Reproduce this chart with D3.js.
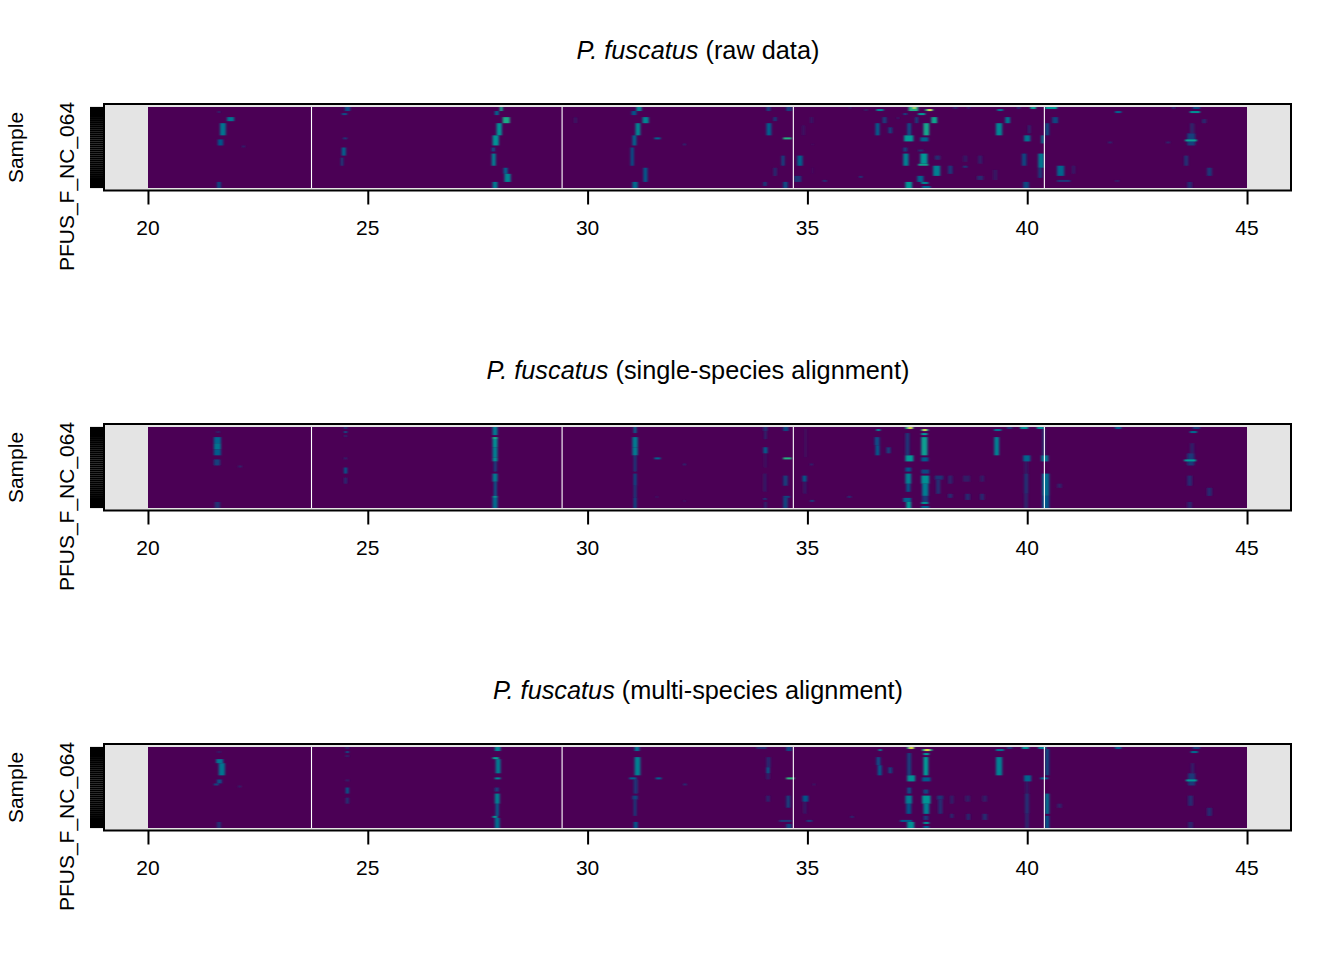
<!DOCTYPE html>
<html>
<head>
<meta charset="utf-8">
<script src="https://cdn.jsdelivr.net/npm/d3@7"></script>
<style>
  html, body { margin: 0; padding: 0; background: #fff; }
  text { font-family: "Liberation Sans", Arial, sans-serif; fill: #000; }
</style>
</head>
<body>
<svg id="chart" width="1344" height="960"></svg>
<script>
// x axis ticks, retention time
const timeTicks = [20, 25, 30, 35, 40, 45];
// white lines between the chromatogram sections
const sectionBreaks = [23.72, 29.42, 34.68, 40.39];
// 40 samples, only the bottom one gets a label (the rest overlap in the original)
const sampleLabel = "PFUS_F_NC_064";
const sampleCount = 40;

// peaks: [time from, time to, row from, row to, intensity], row 0 is the top
const rawPeaks = [
  [21.59,21.64,2,3,.12],[21.80,21.96,5,7,.36],[21.64,21.77,8,14,.36],[21.59,21.71,16,19,.24],[22.14,22.21,19,20,.1],[21.57,21.66,37,40,.2],
  [24.48,24.60,0,2,.22],[24.41,24.53,3,4,.22],[24.44,24.53,15,16,.16],[24.41,24.50,20,24,.3],[24.39,24.44,25,29,.2],
  [28.0,28.07,0,2,.56],[27.89,27.98,2,4,.3],[28.07,28.23,5,8,.58],[27.93,28.05,8,14,.47],[27.84,27.98,14,19,.47],[27.82,27.89,20,22,.22],[27.82,27.91,23,29,.4],[28.09,28.18,30,33,.3],[28.11,28.25,33,37,.42],[27.84,27.95,37,40,.38],
  [31.11,31.23,0,2,.44],[31.0,31.11,2,4,.24],[31.25,31.39,5,8,.42],[31.09,31.2,8,14,.42],[31.02,31.11,14,19,.3],[30.98,31.05,20,29,.24],[31.27,31.36,30,37,.26],[31.02,31.14,37,40,.32],
  [29.70,29.75,5,8,.08],[31.52,31.66,15,16,.3],[32.18,32.23,18,19,.14],
  [34.07,34.18,8,14,.28],[34.23,34.30,5,7,.18],[34.07,34.16,0,2,.18],[34.52,34.64,0,2,.18],[34.45,34.64,15,16,.62],[34.41,34.48,24,29,.2],[34.23,34.30,30,34,.13],[34.45,34.55,37,40,.22],[34.0,34.07,37,39,.18],
  [34.77,34.89,24,29,.28],[34.70,34.86,34,37,.16],[34.89,34.93,9,14,.09],[35.06,35.13,5,8,.07],[35.11,35.13,18,19,.09],[35.11,35.13,30,33,.07],[35.35,35.44,36,37,.13],
  [35.95,36.0,0,1,.08],[36.3,36.37,1,2,.09],[36.57,36.73,1,2,.42],[36.18,36.25,34,35,.16],[36.55,36.64,8,14,.28],[36.84,36.93,10,13,.18],[36.71,36.80,5,8,.18],[37.04,37.08,5,6,.1],[37.18,37.27,3,4,.18],[37.45,37.52,5,8,.18],
  [37.3,37.52,0,2,.6],[37.41,37.45,0,1,.96],[37.68,37.86,1,2,.6],[37.75,37.82,1,2,.98],[37.52,37.68,3,4,.5],[37.82,37.95,5,8,.55],[37.64,37.77,8,14,.56],[37.27,37.36,8,14,.22],[37.2,37.41,14,17,.5],[37.57,37.75,15,17,.3],
  [37.18,37.27,20,22,.18],[37.52,37.64,21,22,.13],[37.18,37.3,23,29,.4],[37.57,37.73,23,28,.48],[37.52,37.75,28,29,.55],[37.86,38.02,29,34,.4],[37.5,37.64,34,37,.3],[37.9,38.02,24,26,.13],[38.2,38.3,29,33,.16],[37.23,37.38,37,40,.48],[37.59,37.75,37,38,.42],[37.61,37.8,39,40,.28],
  [38.32,38.41,0,1,.1],[38.64,38.7,0,1,.1],[38.54,38.64,24,27,.07],[38.54,38.64,29,30,.16],[38.88,38.98,24,28,.08],[38.86,39.0,34,36,.12],[39.22,39.32,31,36,.06],
  [39.29,39.43,8,14,.42],[39.5,39.61,5,8,.36],[39.32,39.45,1,2,.36],[39.77,39.84,0,1,.13],[40.07,40.2,0,1,.52],[39.93,40.07,14,17,.36],[40.02,40.07,9,13,.13],[39.88,39.98,23,29,.2],[39.91,40.04,37,40,.2],
  [40.32,40.38,14,18,.36],[40.25,40.38,23,30,.36],[40.25,40.34,30,35,.16],[40.41,40.68,0,1,.5],[40.57,40.7,5,8,.2],[40.41,40.5,8,14,.2],[40.68,40.84,29,34,.3],[40.68,40.98,36,37,.16],[41.02,41.09,29,33,.08],
  [41.84,41.93,17,18,.1],[42.0,42.14,2,3,.3],[42.0,42.09,36,37,.08],[43.16,43.25,17,18,.1],[43.3,43.36,0,1,.12],[43.77,43.93,0,1,.2],[43.7,43.93,2,3,.46],[43.59,43.86,16,17,.52],[43.64,43.82,13,19,.18],[43.7,43.8,8,13,.09],[43.98,44.07,6,8,.12],[43.57,43.66,24,29,.14],[44.09,44.2,30,34,.16],[43.64,43.75,37,40,.12]
];

const singlePeaks = [
  [21.5,21.66,5,8,.3],[21.5,21.66,8,11,.36],[21.5,21.66,11,14,.26],[21.55,21.64,2,3,.08],[21.5,21.64,16,19,.18],[21.52,21.64,37,40,.14],[22.05,22.14,19,20,.09],
  [24.46,24.53,0,1,.14],[24.46,24.53,2,3,.22],[24.46,24.53,4,5,.1],[24.46,24.53,15,16,.1],[24.46,24.53,20,23,.26],[24.46,24.53,25,28,.12],
  [27.84,27.95,0,4,.38],[27.84,27.95,5,10,.46],[27.84,27.95,5,6,.58],[27.84,27.95,10,15,.4],[27.84,27.95,15,17,.45],[27.87,27.93,17,22,.2],[27.84,27.95,23,27,.38],[27.87,27.93,27,34,.28],[27.84,27.95,34,35,.48],[27.84,27.95,35,40,.33],
  [31.05,31.11,0,3,.33],[31.02,31.14,5,10,.38],[31.02,31.14,10,14,.38],[31.05,31.11,14,22,.18],[31.05,31.11,23,29,.24],[31.05,31.11,29,35,.18],[31.05,31.11,35,40,.23],
  [31.52,31.66,15,16,.3],[32.18,32.23,18,19,.14],[31.55,31.6,34,35,.07],[32.18,32.23,36,37,.06],
  [34.0,34.09,0,2,.14],[34.02,34.07,2,6,.12],[34.0,34.09,10,13,.28],[34.02,34.07,13,20,.07],[34.0,34.07,23,32,.08],[34.0,34.07,35,36,.16],[34.02,34.07,37,40,.12],[34.45,34.64,15,16,.62],[34.45,34.55,24,29,.18],[34.45,34.6,34,35,.2],[34.45,34.55,35,40,.2],[34.45,34.57,0,2,.2],
  [34.89,34.98,24,27,.26],[34.91,34.98,27,33,.08],[34.93,34.98,1,15,.05],[35.06,35.15,36,37,.16],[35.06,35.13,18,19,.1],[35.91,36.0,34,35,.12],
  [36.53,36.64,5,9,.22],[36.55,36.64,9,14,.26],[36.57,36.66,1,2,.42],[36.8,36.89,10,13,.18],
  [37.23,37.32,3,14,.16],[37.23,37.41,0,1,.6],[37.3,37.38,0,1,.96],[37.59,37.75,1,2,.6],[37.64,37.7,1,2,.98],[37.59,37.73,3,4,.5],[37.59,37.73,5,14,.52],[37.23,37.41,14,17,.5],[37.59,37.75,15,17,.26],
  [37.23,37.36,20,22,.24],[37.23,37.36,23,28,.4],[37.25,37.34,28,32,.25],[37.18,37.36,35,37,.3],[37.25,37.36,37,40,.5],
  [37.59,37.77,21,23,.2],[37.59,37.77,24,28,.46],[37.61,37.75,28,34,.38],[37.61,37.75,34,37,.16],[37.59,37.75,37,38,.46],[37.59,37.77,39,40,.26],
  [37.9,38.09,24,26,.15],[37.93,38.02,26,33,.14],[38.2,38.3,24,28,.1],[38.2,38.3,33,35,.12],[38.54,38.7,24,27,.08],[38.59,38.7,33,36,.12],[38.93,39.02,24,27,.08],[38.93,39.02,33,36,.12],
  [39.25,39.36,5,14,.4],[39.25,39.41,1,2,.36],[39.54,39.66,0,1,.16],[39.84,40.02,0,1,.46],[39.91,40.07,14,17,.3],[39.93,40.02,17,23,.07],[39.93,40.02,23,33,.14],[39.93,40.02,33,40,.1],
  [40.22,40.38,0,1,.46],[40.34,40.41,1,14,.12],[40.32,40.48,14,17,.36],[40.34,40.5,23,34,.32],[40.34,40.5,34,40,.24],[40.68,40.79,28,30,.09],
  [42.0,42.14,0,1,.26],[43.77,43.93,0,1,.16],[43.7,43.86,2,3,.32],[43.57,43.84,16,17,.5],[43.64,43.8,13,19,.16],[43.7,43.8,8,13,.08],[43.64,43.75,24,29,.12],[44.09,44.2,30,34,.12],[43.64,43.75,37,40,.1]
];

const multiPeaks = [
  [21.55,21.71,6,8,.36],[21.61,21.75,8,14,.36],[21.57,21.68,16,18,.22],[21.5,21.61,18,19,.2],[22.05,22.12,19,20,.09],[21.57,21.66,37,40,.14],[21.57,21.66,2,3,.07],
  [24.5,24.57,0,1,.1],[24.5,24.57,2,3,.22],[24.5,24.57,4,5,.1],[24.5,24.57,16,17,.1],[24.5,24.57,20,23,.26],[24.5,24.57,25,28,.14],
  [27.89,28.02,0,2,.42],[27.84,27.98,5,6,.52],[27.91,28.02,6,13,.38],[27.89,28.02,15,16,.42],[27.89,27.98,20,22,.18],[27.89,28.0,23,28,.4],[27.91,27.98,28,34,.28],[27.84,27.95,34,35,.48],[27.89,28.0,35,40,.33],
  [31.07,31.18,0,2,.35],[31.07,31.2,5,14,.4],[30.95,31.11,15,16,.28],[31.05,31.14,16,23,.16],[31.02,31.14,24,26,.2],[31.05,31.11,26,34,.18],[31.05,31.14,37,40,.25],
  [31.55,31.68,15,16,.28],[32.18,32.25,18,19,.14],
  [34.07,34.16,5,10,.12],[34.07,34.14,10,13,.28],[34.07,34.14,13,16,.1],[33.84,34.07,0,1,.12],[34.07,34.14,24,27,.12],[34.52,34.7,15,16,.64],[34.52,34.64,0,2,.2],[34.52,34.61,24,30,.18],[34.36,34.64,36,37,.16],[34.52,34.64,38,40,.2],
  [34.89,35.02,24,27,.24],[34.91,34.98,27,33,.08],[34.98,35.11,36,37,.16],[35.13,35.17,18,19,.1],[35.98,36.05,34,35,.12],
  [36.57,36.66,5,9,.22],[36.6,36.69,9,14,.26],[36.62,36.69,1,2,.42],[36.84,36.93,10,13,.18],
  [37.27,37.36,3,14,.18],[37.27,37.43,0,1,.6],[37.32,37.41,0,1,.96],[37.61,37.84,1,2,.6],[37.68,37.77,1,2,.98],[37.64,37.77,3,4,.5],[37.64,37.75,5,14,.5],[37.27,37.45,14,17,.46],[37.61,37.8,15,17,.26],
  [37.27,37.36,20,23,.22],[37.23,37.38,24,28,.38],[37.25,37.36,28,33,.24],[37.11,37.38,36,37,.26],[37.27,37.43,37,40,.46],
  [37.64,37.75,21,23,.2],[37.61,37.8,24,28,.48],[37.64,37.77,28,33,.4],[37.64,37.75,34,36,.16],[37.64,37.77,37,38,.46],[37.64,37.77,39,40,.26],
  [37.95,38.09,24,26,.15],[37.98,38.07,26,33,.14],[38.25,38.32,24,28,.1],[38.25,38.32,33,35,.12],[38.59,38.7,24,27,.08],[38.62,38.7,33,36,.12],[38.98,39.09,24,27,.08],[38.98,39.09,33,36,.12],
  [39.29,39.43,5,14,.4],[39.29,39.47,1,2,.36],[39.54,39.66,0,1,.16],[39.88,40.04,0,1,.46],[39.93,40.09,14,17,.3],[39.95,40.04,17,23,.07],[39.95,40.04,23,33,.14],[39.95,40.04,33,40,.1],
  [40.25,40.43,0,1,.4],[40.41,40.5,1,14,.2],[40.3,40.48,15,16,.32],[40.41,40.5,23,33,.34],[40.41,40.5,34,40,.24],[40.68,40.79,28,30,.09],
  [42.0,42.14,0,1,.26],[43.77,43.93,0,1,.16],[43.72,43.88,2,3,.32],[43.61,43.86,16,17,.48],[43.66,43.82,13,19,.16],[43.72,43.8,8,13,.08],[43.66,43.77,24,29,.12],[44.09,44.2,30,34,.12],[43.66,43.77,37,40,.1]
];

const panels = [
  { suffix: " (raw data)", peaks: rawPeaks, top: 0 },
  { suffix: " (single-species alignment)", peaks: singlePeaks, top: 320 },
  { suffix: " (multi-species alignment)", peaks: multiPeaks, top: 640 }
];

const svg = d3.select("#chart");

// same ramp as hcl.colors(viridis)
const color = d3.scaleLinear()
  .domain([0, 0.25, 0.5, 0.75, 1])
  .range(["#4B0055", "#00588B", "#009B95", "#53CC67", "#FDE333"]);

const x = d3.scaleLinear().domain([19, 46]).range([104, 1291]);
const rows = d3.range(sampleCount);
const y = d3.scaleBand().domain(rows).range([107, 188]);

const defs = svg.append("defs");
const soft = defs.append("filter").attr("id", "soft")
  .attr("filterUnits", "userSpaceOnUse")
  .attr("x", 130).attr("y", 95).attr("width", 1140).attr("height", 105);
soft.append("feGaussianBlur").attr("stdDeviation", "1.3 0.6");
defs.append("clipPath").attr("id", "imageClip")
  .append("rect")
  .attr("x", x(20)).attr("y", 107)
  .attr("width", x(45) - x(20)).attr("height", 81);

panels.forEach(panel => {
  const g = svg.append("g").attr("transform", `translate(0,${panel.top})`);

  // grey plot background
  g.append("rect")
    .attr("x", 104).attr("y", 104)
    .attr("width", 1187).attr("height", 86.5)
    .attr("fill", "#e4e4e4");

  const image = g.append("g").attr("clip-path", "url(#imageClip)");
  image.append("rect")
    .attr("x", x(20)).attr("y", 107)
    .attr("width", x(45) - x(20)).attr("height", 81)
    .attr("fill", color(0));

  image.append("g").attr("filter", "url(#soft)")
    .selectAll("rect")
    .data(panel.peaks.slice().sort((a, b) => a[4] - b[4]))
    .enter()
    .append("rect")
    .attr("x", d => x(d[0]))
    .attr("width", d => x(d[1]) - x(d[0]))
    .attr("y", d => y(d[2]))
    .attr("height", d => (d[3] - d[2]) * y.bandwidth())
    .attr("fill", d => color(d[4]));

  image.selectAll("line.break")
    .data(sectionBreaks)
    .enter()
    .append("line")
    .attr("class", "break")
    .attr("x1", d => x(d)).attr("x2", d => x(d))
    .attr("y1", 107).attr("y2", 188)
    .attr("stroke", "#fff")
    .attr("stroke-width", 1.1);

  // frame
  g.append("rect")
    .attr("x", 104).attr("y", 104)
    .attr("width", 1187).attr("height", 86.5)
    .attr("fill", "none")
    .attr("stroke", "#000")
    .attr("stroke-width", 2);

  // x axis
  const xAxis = g.append("g")
    .attr("transform", "translate(0,190.5)")
    .call(d3.axisBottom(x).tickValues(timeTicks).tickSize(14).tickPadding(16).tickFormat(d3.format("d")));
  xAxis.select(".domain").remove();
  xAxis.selectAll("line").attr("stroke", "#000").attr("stroke-width", 2);
  xAxis.selectAll("text")
    .attr("fill", "#000")
    .attr("dx", -0.5)
    .style("font-size", "21px");

  // y axis, one tick per sample
  const yAxis = g.append("g")
    .attr("transform", "translate(104,0)")
    .call(d3.axisLeft(y).tickSize(14).tickFormat(""));
  yAxis.select(".domain").remove();
  yAxis.selectAll("line").attr("stroke", "#000").attr("stroke-width", 2.2);

  g.append("text")
    .attr("transform", `translate(73.5,${y(sampleCount - 1) + y.bandwidth() / 2 - 0.5}) rotate(-90)`)
    .attr("text-anchor", "middle")
    .style("font-size", "21px")
    .text(sampleLabel);

  g.append("text")
    .attr("transform", "translate(22.5,147.5) rotate(-90)")
    .attr("text-anchor", "middle")
    .style("font-size", "21px")
    .text("Sample");

  // title with the italic species name
  const title = g.append("text")
    .attr("x", 698).attr("y", 59)
    .attr("text-anchor", "middle")
    .style("font-size", "25.3px");
  title.append("tspan").attr("font-style", "italic").text("P. fuscatus");
  title.append("tspan").text(panel.suffix);
});
</script>
</body>
</html>
